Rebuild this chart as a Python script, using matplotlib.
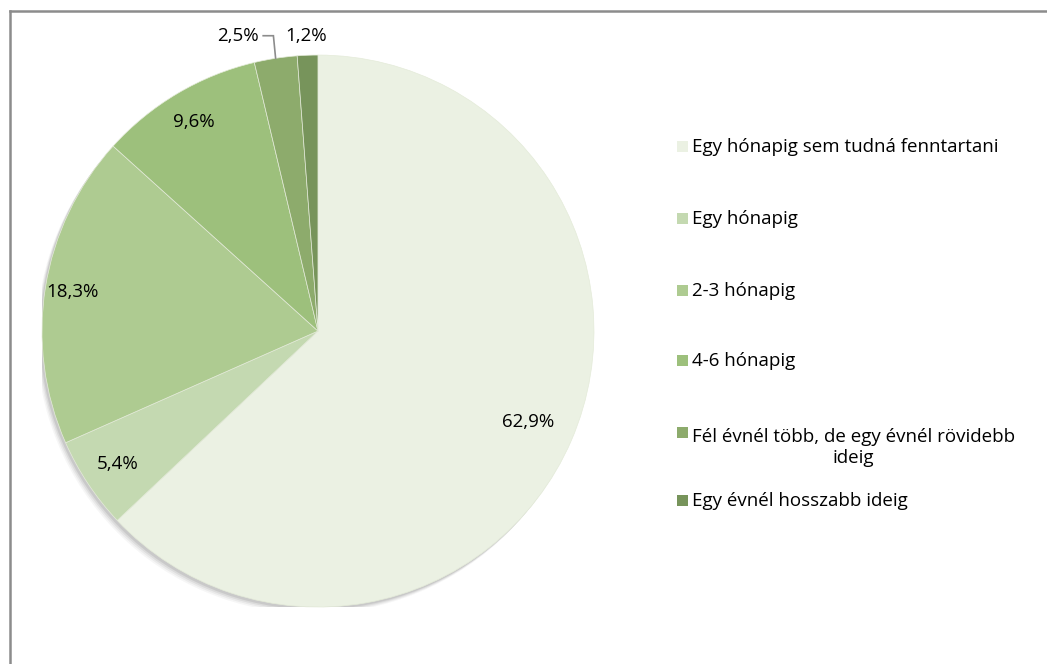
import numpy as np
import matplotlib
matplotlib.use('Agg')
from matplotlib import pyplot as plt
from matplotlib.patches import Rectangle, Circle
from matplotlib.lines import Line2D

plt.rcParams['font.family'] = ['Open Sans', 'DejaVu Sans']

categories = ['Egy hónapig sem tudná fenntartani', 'Egy hónapig', '2-3 hónapig',
              '4-6 hónapig', 'Fél évnél több, de egy évnél rövidebb\nideig',
              'Egy évnél hosszabb ideig']
values = [62.9, 5.4, 18.3, 9.6, 2.5, 1.2]
labels = ['62,9%', '5,4%', '18,3%', '9,6%', '2,5%', '1,2%']
colors = ['#ebf1e3', '#c4d9b1', '#aecb91', '#9dc07c', '#8dab6c', '#77945b']

fig = plt.figure(figsize=(10.47, 6.64), dpi=100)
ax = fig.add_axes([0.0401, 0.0858, 0.5272, 0.8313])

# soft shadow to the lower left
for i, a in enumerate([0.04, 0.06, 0.08, 0.10]):
    off = 0.024 - i * 0.005
    ax.add_patch(Circle((-off * 0.8, -off), 1.0, color='#303030', alpha=a, lw=0, zorder=0))

wedges, _ = ax.pie(values, colors=colors, startangle=90, counterclock=False, radius=1.0,
                   wedgeprops=dict(linewidth=0.5, edgecolor='#e4ebd9'))
for w in wedges:
    w.set_zorder(2)
ax.set_xlim(-1, 1)
ax.set_ylim(-1, 1)
ax.set_aspect('equal')
ax.axis('off')

fs = 13.5
# labels
total = sum(values)
cum = np.cumsum([0] + values[:-1])
rad = [0.83, 0.87, 0.90, 0.88]
for i in range(4):
    ang = np.deg2rad(90 - 360 * (cum[i] + values[i] / 2) / total)
    ax.text(rad[i] * np.cos(ang), rad[i] * np.sin(ang), labels[i],
            ha='center', va='center', fontsize=fs, zorder=5)

# outside labels for the two small slices
ang4 = np.deg2rad(90 - 360 * (cum[4] + values[4] / 2) / total)
x0, y0 = np.cos(ang4), np.sin(ang4)
ly = 1.07
ax.plot([x0, x0 - 0.008, x0 - 0.045], [y0, ly, ly], color='#8c8c8c', lw=1.2,
        zorder=4, clip_on=False, solid_joinstyle='miter')
ax.text(x0 - 0.06, ly, labels[4], ha='right', va='center', fontsize=fs, zorder=5)
ang5 = np.deg2rad(90 - 360 * (cum[5] + values[5] / 2) / total)
ax.text(np.cos(ang5) - 0.005, ly, labels[5], ha='center', va='center', fontsize=fs, zorder=5)

# legend
W, H = 1047, 664
ys = [146, 218, 290, 360, 432, 500]
for c, lab, y in zip(colors, categories, ys):
    fig.add_artist(Rectangle((677 / W, 1 - (y + 6) / H), 11 / W, 11 / H,
                             transform=fig.transFigure, facecolor=c, edgecolor='none'))
    nl = lab.count('\n')
    fig.text(692 / W, 1 - (y + 6 + 25 * nl) / H, lab, ha='left', va='baseline',
             fontsize=fs, multialignment='center', linespacing=1.25)

# frame lines (top and left only)
fig.add_artist(Line2D([10 / W, 10 / W], [0, 1 - 11 / H], color='#8c8c8c', lw=1.8,
                      transform=fig.transFigure))
fig.add_artist(Line2D([10 / W, 1], [1 - 11 / H, 1 - 11 / H], color='#8c8c8c', lw=1.8,
                      transform=fig.transFigure))

fig.savefig('out.png', dpi=100)
